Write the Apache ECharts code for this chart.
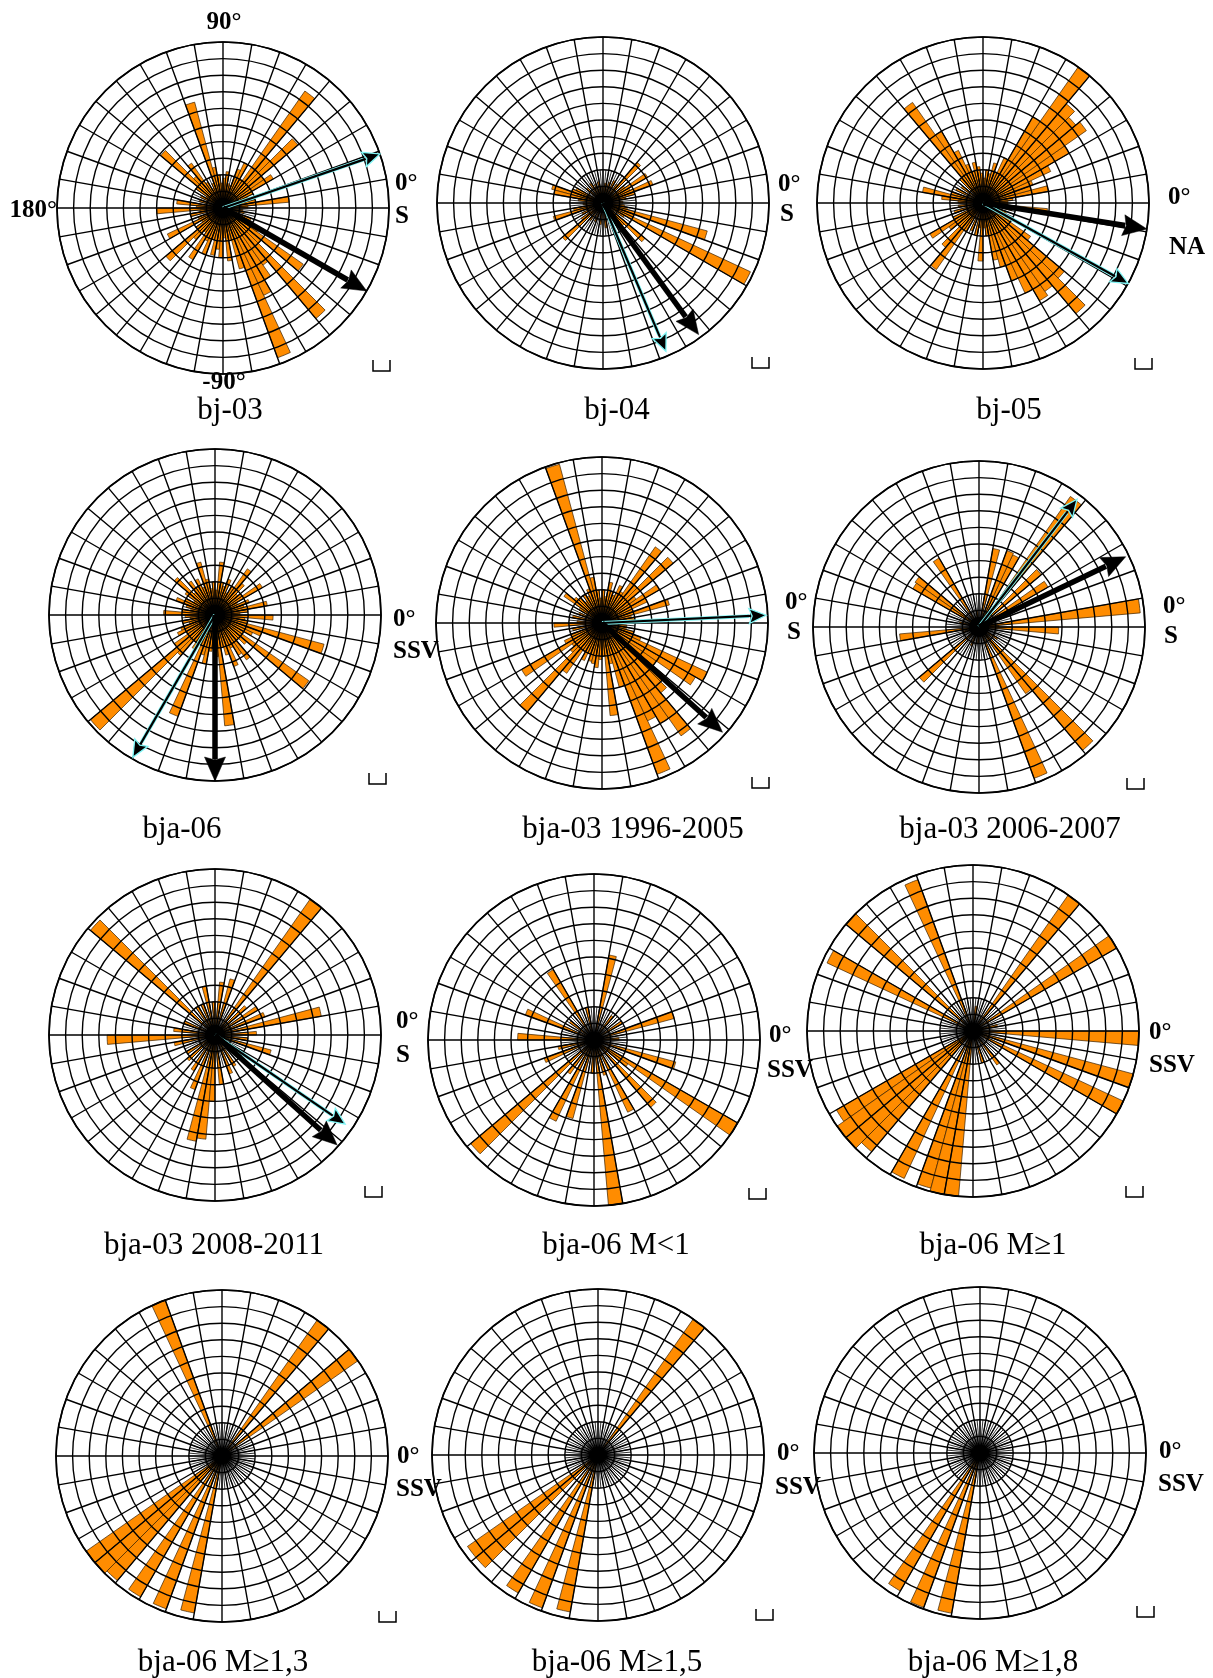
<!DOCTYPE html>
<html>
<head>
<meta charset="utf-8">
<title>Rose diagrams</title>
<script src="https://cdn.jsdelivr.net/npm/echarts@6/dist/echarts.min.js"></script>
<style>
  html, body { margin: 0; padding: 0; background: #fff; }
  #chart { width: 1213px; height: 1678px; }
</style>
</head>
<body>
<div id="chart"></div>
<script>
// ---- data: 5-degree bins, [bin centre angle (deg, counter-clockwise from east), length in rings] ----
const binsBj03 = [[2.5,1.5],[7.5,4.0],[12.5,2.0],[17.5,1.2],[22.5,1.6],[27.5,2.0],[32.5,3.5],[37.5,3.0],[42.5,5.9],[47.5,4.0],[52.5,8.6],[57.5,2.0],[62.5,3.0],[67.5,2.5],[72.5,1.4],[77.5,1.5],[82.5,2.2],[87.5,1.8],[92.5,1.5],[97.5,2.0],[102.5,2.5],[107.5,6.6],[112.5,1.6],[117.5,1.3],[122.5,1.8],[127.5,3.3],[132.5,2.5],[137.5,4.9],[142.5,2.0],[147.5,1.2],[152.5,1.5],[162.5,1.5],[172.5,2.8],[177.5,1.6],[182.5,4.0],[187.5,1.4],[192.5,2.0],[202.5,1.6],[207.5,3.7],[212.5,1.5],[217.5,2.0],[222.5,4.5],[227.5,2.5],[232.5,1.8],[237.5,3.6],[242.5,2.2],[247.5,3.0],[252.5,2.0],[257.5,2.9],[262.5,2.5],[267.5,3.0],[272.5,1.8],[277.5,3.2],[282.5,2.0],[287.5,3.8],[292.5,9.6],[297.5,5.8],[302.5,5.0],[307.5,4.2],[312.5,8.7],[317.5,3.0],[322.5,5.9],[327.5,2.5],[332.5,1.5],[337.5,1.8],[347.5,1.3],[352.5,1.2]];
const binsBj04 = [[2.5,1.2],[12.5,1.4],[17.5,2.0],[22.5,3.2],[27.5,1.8],[32.5,3.1],[37.5,1.6],[47.5,3.2],[52.5,1.4],[62.5,1.5],[72.5,1.3],[82.5,1.2],[92.5,1.0],[102.5,1.3],[112.5,1.2],[122.5,1.4],[137.5,1.3],[152.5,1.8],[157.5,2.0],[162.5,3.2],[167.5,3.0],[172.5,1.5],[182.5,1.2],[192.5,1.8],[197.5,3.1],[207.5,1.4],[217.5,1.6],[222.5,3.2],[232.5,1.3],[247.5,1.2],[262.5,1.3],[277.5,1.5],[292.5,1.8],[302.5,1.6],[312.5,1.8],[317.5,3.3],[327.5,1.5],[332.5,9.8],[337.5,2.0],[342.5,6.5],[347.5,1.5],[352.5,1.3]];
const binsBj05 = [[2.5,1.5],[7.5,1.8],[12.5,4.0],[17.5,3.0],[22.5,3.2],[27.5,4.5],[32.5,6.0],[37.5,7.6],[42.5,7.3],[47.5,7.8],[52.5,10.0],[57.5,6.0],[62.5,3.0],[67.5,2.0],[72.5,2.5],[77.5,1.8],[82.5,2.0],[87.5,1.5],[92.5,1.8],[97.5,2.2],[102.5,2.5],[107.5,2.0],[112.5,2.5],[117.5,3.5],[122.5,5.0],[127.5,7.4],[132.5,2.0],[142.5,1.6],[152.5,1.8],[162.5,2.0],[167.5,3.7],[172.5,2.5],[177.5,1.5],[187.5,1.5],[197.5,1.8],[207.5,2.0],[212.5,3.7],[217.5,2.5],[222.5,2.0],[227.5,3.5],[232.5,4.9],[237.5,2.0],[247.5,1.8],[257.5,2.0],[262.5,1.5],[267.5,3.5],[272.5,1.5],[277.5,2.0],[282.5,3.5],[287.5,4.0],[292.5,5.0],[297.5,6.0],[302.5,6.8],[307.5,6.5],[312.5,8.7],[317.5,6.4],[322.5,3.5],[327.5,2.0],[337.5,1.5],[347.5,1.8],[352.5,3.9],[357.5,1.5]];
const binsBja06 = [[2.5,1.5],[7.5,2.0],[12.5,3.2],[17.5,1.8],[22.5,2.2],[27.5,1.5],[32.5,3.3],[37.5,2.0],[42.5,1.8],[47.5,2.5],[52.5,3.4],[57.5,2.0],[62.5,1.5],[67.5,2.3],[72.5,1.8],[77.5,2.0],[82.5,3.2],[87.5,1.5],[92.5,2.0],[97.5,1.6],[102.5,2.2],[107.5,3.3],[112.5,1.8],[117.5,2.4],[122.5,2.0],[127.5,2.5],[132.5,1.8],[137.5,3.2],[142.5,2.2],[147.5,1.5],[152.5,2.0],[157.5,2.5],[162.5,1.8],[167.5,1.5],[172.5,2.0],[177.5,3.1],[182.5,1.8],[187.5,1.5],[192.5,2.0],[197.5,1.6],[202.5,2.2],[207.5,2.5],[212.5,2.0],[217.5,3.0],[222.5,9.8],[227.5,3.2],[232.5,2.0],[237.5,2.4],[242.5,2.0],[247.5,6.5],[252.5,2.5],[257.5,3.0],[262.5,2.2],[267.5,2.0],[272.5,2.5],[277.5,6.7],[282.5,2.0],[287.5,2.5],[292.5,3.3],[297.5,2.2],[302.5,2.8],[307.5,3.3],[312.5,2.0],[317.5,2.5],[322.5,6.9],[327.5,2.0],[332.5,2.5],[337.5,3.0],[342.5,6.8],[347.5,2.0],[352.5,1.8],[357.5,3.5]];
const binsBja03a = [[2.5,1.5],[7.5,2.0],[12.5,1.8],[17.5,4.2],[22.5,2.0],[27.5,3.0],[32.5,4.0],[37.5,2.5],[42.5,5.6],[47.5,3.0],[52.5,5.6],[57.5,2.2],[62.5,2.5],[67.5,1.8],[72.5,2.0],[77.5,2.5],[82.5,1.6],[87.5,2.0],[92.5,1.5],[97.5,2.0],[102.5,2.8],[107.5,9.9],[112.5,2.2],[117.5,1.8],[122.5,2.0],[127.5,1.6],[132.5,2.0],[137.5,2.2],[142.5,2.8],[147.5,1.6],[157.5,1.5],[167.5,1.8],[177.5,1.5],[182.5,2.9],[192.5,1.8],[202.5,2.0],[207.5,2.5],[212.5,5.6],[217.5,2.2],[222.5,2.5],[227.5,7.0],[232.5,3.7],[237.5,2.0],[242.5,2.5],[247.5,2.0],[252.5,2.4],[257.5,2.5],[262.5,2.7],[267.5,2.2],[272.5,2.0],[277.5,5.6],[282.5,2.5],[287.5,4.0],[292.5,9.7],[297.5,6.5],[302.5,7.0],[307.5,8.3],[312.5,5.5],[317.5,5.0],[322.5,4.0],[327.5,6.5],[332.5,7.0],[337.5,2.5],[342.5,2.0],[347.5,1.5],[352.5,1.5]];
const binsBja03b = [[2.5,1.2],[7.5,9.75],[17.5,1.0],[32.5,4.8],[42.5,4.9],[52.5,9.6],[62.5,4.8],[67.5,4.9],[77.5,4.8],[97.5,1.0],[122.5,4.8],[142.5,4.7],[147.5,4.6],[167.5,1.2],[187.5,4.8],[197.5,1.0],[222.5,4.7],[247.5,1.2],[267.5,1.0],[292.5,9.7],[307.5,4.9],[312.5,9.7],[327.5,1.3],[357.5,4.8]];
const binsBja03c = [[2.5,2.5],[12.5,6.5],[22.5,3.2],[32.5,3.0],[42.5,2.5],[52.5,9.95],[72.5,3.5],[82.5,3.2],[92.5,2.0],[102.5,3.0],[112.5,2.0],[122.5,2.0],[137.5,9.8],[157.5,2.0],[172.5,2.5],[182.5,6.5],[192.5,2.5],[212.5,2.0],[222.5,2.2],[237.5,2.5],[247.5,3.5],[257.5,6.5],[262.5,6.3],[267.5,4.0],[277.5,3.0],[292.5,2.5],[302.5,2.2],[322.5,2.0],[342.5,3.5],[352.5,2.0]];
const binsMlt1 = [[2.5,1.5],[17.5,5.0],[32.5,2.0],[52.5,1.8],[77.5,5.2],[102.5,2.0],[122.5,4.9],[142.5,1.8],[157.5,4.4],[177.5,4.6],[192.5,2.2],[202.5,3.2],[222.5,9.7],[232.5,2.5],[242.5,5.4],[252.5,4.9],[267.5,2.0],[277.5,10.0],[287.5,2.2],[297.5,4.8],[312.5,5.3],[322.5,2.5],[327.5,10.0],[342.5,5.1]];
const binsMge1 = [[12.5,1.5],[32.5,10.0],[52.5,10.0],[82.5,1.5],[112.5,9.7],[137.5,10.0],[152.5,9.7],[212.5,9.5],[217.5,10.0],[222.5,10.0],[227.5,9.5],[242.5,9.8],[252.5,9.8],[257.5,10.0],[262.5,10.0],[287.5,2.0],[307.5,2.5],[332.5,10.0],[342.5,10.0],[357.5,10.0]];
const binsMge13 = [[37.5,10.0],[52.5,10.0],[112.5,10.0],[217.5,10.0],[222.5,10.0],[227.5,9.8],[237.5,9.8],[247.5,9.8],[257.5,9.6]];
const binsMge15 = [[52.5,10.0],[217.5,9.6],[222.5,9.6],[237.5,9.6],[247.5,9.8],[257.5,9.6]];
const binsMge18 = [[237.5,9.6],[247.5,9.9],[257.5,9.8]];

// mean directions: [angle, length]; null where a panel has none
const meanVectorBlack = [[330,10],[306,9.8],[351,10],[270,10],[317.8,9.8],[25.6,9.8],[318,9.9],null,null,null,null,null];
const meanVectorCyan  = [[19,10],[293,9.7],[331,10],[240,9.9],[2.7,9.9],[52.5,9.7],[325.6,9.5],null,null,null,null,null];

const panelTitles = ['bj-03','bj-04','bj-05','bja-06','bja-03 1996-2005','bja-03 2006-2007','bja-03 2008-2011','bja-06 M<1','bja-06 M\u22651','bja-06 M\u22651,3','bja-06 M\u22651,5','bja-06 M\u22651,8'];
const axisNames = ['S','S','NA','SSV','S','S','S','SSV','SSV','SSV','SSV','SSV'];
const zeroLabel = '0\u00b0';

const panelBins = [binsBj03, binsBj04, binsBj05, binsBja06, binsBja03a, binsBja03b, binsBja03c, binsMlt1, binsMge1, binsMge13, binsMge15, binsMge18];

// ---- layout ----
const R = 166;
const centers = [[223,208],[603,203],[983,203],[215,615],[602,623],[979,627],[215,1035],[594,1040],[973,1031],[222,1456],[598,1455],[980,1453]];
const titlePos = [[230,411],[617,411],[1009,411],[182,830],[633,830],[1010,830],[214,1246],[616,1246],[993,1246],[223,1663],[617,1663],[993,1663]];
const zeroPos = [[395,184],[778,185],[1168,198],[393,620],[785,603],[1163,607],[396,1022],[769,1036],[1149,1033],[397,1457],[777,1454],[1159,1452]];
const namePos = [[395,217],[780,215],[1169,248],[393,652],[787,633],[1164,637],[396,1056],[767,1071],[1149,1066],[396,1490],[775,1488],[1158,1485]];
const bracketPos = [[373,360],[752,357],[1135,358],[369,773],[752,777],[1127,778],[365,1186],[749,1188],[1126,1186],[379,1611],[756,1609],[1137,1606]];

const ORANGE = '#FF8C00';
const SERIF = '"Liberation Serif", "Times New Roman", serif';

const polar = [], angleAxis = [], radiusAxis = [], series = [];
const N = panelBins.length;

for (let i = 0; i < N; i++) {
  polar.push({ center: centers[i], radius: R });
}
for (let i = 0; i < N; i++) {
  // fine spokes near the pole
  polar.push({ center: centers[i], radius: R * 0.2 });
}

for (let i = 0; i < N; i++) {
  angleAxis.push({
    polarIndex: i, type: 'value', min: 0, max: 360, interval: 10,
    startAngle: 0, clockwise: false, z: 3,
    axisLine: { show: true, lineStyle: { color: '#000', width: 1.7 } },
    axisTick: { show: false }, axisLabel: { show: false },
    splitLine: { show: true, lineStyle: { color: '#000', width: 1.4 } }
  });
  radiusAxis.push({
    polarIndex: i, type: 'value', min: 0, max: 10, interval: 1, z: 3,
    axisLine: { show: false }, axisTick: { show: false }, axisLabel: { show: false },
    splitLine: { show: true, lineStyle: { color: '#000', width: 1.4 } }
  });
}
for (let i = 0; i < N; i++) {
  angleAxis.push({
    polarIndex: N + i, type: 'value', min: 0, max: 360, interval: 5,
    startAngle: 0, clockwise: false, z: 3,
    axisLine: { show: false }, axisTick: { show: false }, axisLabel: { show: false },
    splitLine: { show: true, lineStyle: { color: '#000', width: 0.8 } }
  });
  radiusAxis.push({
    polarIndex: N + i, type: 'value', min: 0, max: 1, z: 3,
    axisLine: { show: false }, axisTick: { show: false }, axisLabel: { show: false },
    splitLine: { show: false }
  });
}

function renderBin(params, api) {
  const len = api.value(0), ang = api.value(1);
  const pts = [api.coord([0, ang])];
  const steps = 6;
  for (let k = 0; k <= steps; k++) {
    pts.push(api.coord([len, ang - 2.5 + 5 * k / steps]));
  }
  return {
    type: 'polygon',
    shape: { points: pts },
    style: { fill: ORANGE, stroke: '#3a2000', lineWidth: 0.7 }
  };
}

function renderArrow(params, api) {
  const len = api.value(0), ang = api.value(1), kind = api.value(2);
  const c = api.coord([0, ang]);
  const tip = api.coord([len, ang]);
  const dx = tip[0] - c[0], dy = tip[1] - c[1];
  const L = Math.hypot(dx, dy);
  const ux = dx / L, uy = dy / L, px = -uy, py = ux;
  const heavy = kind === 1;
  const headLen = heavy ? 24 : 17;
  const headW = heavy ? 10.5 : 7.5;
  const bx = tip[0] - ux * headLen, by = tip[1] - uy * headLen;
  const head = [tip, [bx + px * headW, by + py * headW], [bx + ux * 3, by + uy * 3], [bx - px * headW, by - py * headW]];
  const children = [];
  if (!heavy) {
    children.push({ type: 'line', shape: { x1: c[0], y1: c[1], x2: bx, y2: by },
      style: { stroke: '#7ff5f5', lineWidth: 3.8 } });
  }
  children.push({ type: 'line', shape: { x1: c[0], y1: c[1], x2: bx + ux * 2, y2: by + uy * 2 },
    style: { stroke: '#000', lineWidth: heavy ? 5.5 : 2.2 } });
  children.push({ type: 'polygon', shape: { points: head },
    style: { fill: '#000', stroke: heavy ? '#000' : '#7ff5f5', lineWidth: heavy ? 0.5 : 1.3 } });
  return { type: 'group', children: children };
}

function renderHub(params, api) {
  const c = api.coord([0, 0]);
  const e = api.coord([api.value(0), 0]);
  return { type: 'circle', shape: { cx: c[0], cy: c[1], r: Math.hypot(e[0] - c[0], e[1] - c[1]) },
    style: { fill: '#000' } };
}

for (let i = 0; i < N; i++) {
  series.push({
    type: 'custom', coordinateSystem: 'polar', polarIndex: i, z: 2, silent: true,
    data: panelBins[i].map(b => [b[1], b[0]]),
    renderItem: renderBin
  });
  const arrows = [];
  if (meanVectorCyan[i]) arrows.push([meanVectorCyan[i][1], meanVectorCyan[i][0], 0]);
  if (meanVectorBlack[i]) arrows.push([meanVectorBlack[i][1], meanVectorBlack[i][0], 1]);
  if (arrows.length) {
    series.push({
      type: 'custom', coordinateSystem: 'polar', polarIndex: i, z: 6, silent: true,
      data: arrows, renderItem: renderArrow
    });
  }
  series.push({
    type: 'custom', coordinateSystem: 'polar', polarIndex: i, z: 5, silent: true,
    data: [[i < 7 ? 0.6 : 0.45, 0]], renderItem: renderHub
  });
}

// ---- text and scale marks ----
const graphic = [];
for (let i = 0; i < N; i++) {
  graphic.push({ type: 'text', x: titlePos[i][0], y: titlePos[i][1],
    style: { text: panelTitles[i], font: '31px ' + SERIF, fill: '#000', align: 'center', verticalAlign: 'middle' } });
  graphic.push({ type: 'text', x: zeroPos[i][0], y: zeroPos[i][1],
    style: { text: zeroLabel, font: 'bold 25px ' + SERIF, fill: '#000', align: 'left', verticalAlign: 'middle' } });
  graphic.push({ type: 'text', x: namePos[i][0], y: namePos[i][1],
    style: { text: axisNames[i], font: 'bold 25px ' + SERIF, fill: '#000', align: 'left', verticalAlign: 'middle' } });
  const b = bracketPos[i];
  graphic.push({ type: 'polyline', shape: { points: [[b[0], b[1]], [b[0], b[1] + 11], [b[0] + 17, b[1] + 11], [b[0] + 17, b[1]]] },
    style: { stroke: '#000', lineWidth: 1.5, fill: null } });
}
// angle references on the first panel
graphic.push({ type: 'text', x: 224, y: 23, style: { text: '90\u00b0', font: 'bold 25px ' + SERIF, fill: '#000', align: 'center', verticalAlign: 'middle' } });
graphic.push({ type: 'text', x: 57, y: 211, style: { text: '180\u00b0', font: 'bold 25px ' + SERIF, fill: '#000', align: 'right', verticalAlign: 'middle' } });
graphic.push({ type: 'text', x: 224, y: 383, style: { text: '-90\u00b0', font: 'bold 25px ' + SERIF, fill: '#000', align: 'center', verticalAlign: 'middle' } });

const chart = echarts.init(document.getElementById('chart'), null, { renderer: 'canvas' });
chart.setOption({
  backgroundColor: '#fff',
  animation: false,
  polar: polar,
  angleAxis: angleAxis,
  radiusAxis: radiusAxis,
  series: series,
  graphic: graphic
});
</script>
</body>
</html>
